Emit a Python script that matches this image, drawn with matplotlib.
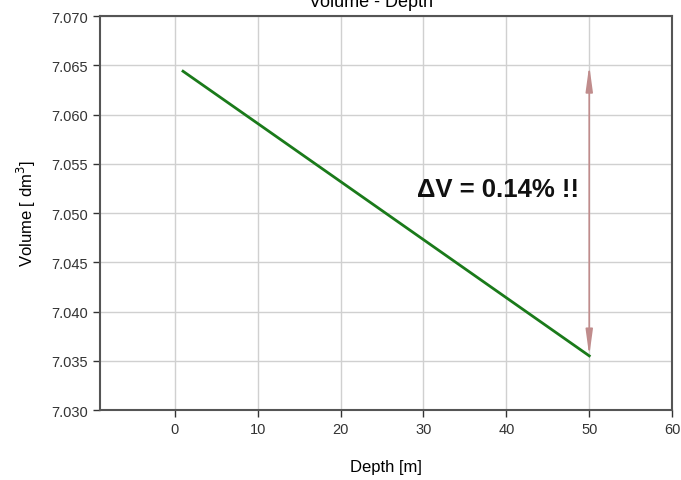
import matplotlib
matplotlib.use('Agg')
import matplotlib.pyplot as plt

depth = [1, 10, 20, 30, 40, 50]
volume = [7.0644, 7.0591, 7.0532, 7.0473, 7.0414, 7.0355]
x_ticks = [0, 10, 20, 30, 40, 50, 60]
y_ticks = [7.030, 7.035, 7.040, 7.045, 7.050, 7.055, 7.060, 7.065, 7.070]
arrow_bottom = 7.0355
arrow_top = 7.0650

plt.rcParams['font.family'] = ['Liberation Sans', 'DejaVu Sans']

fig = plt.figure(figsize=(6.81, 4.81), dpi=100)
ax = fig.add_axes([0.147, 0.1455, 0.84, 0.819])

ax.plot(depth, volume, color='#1a7a1a', lw=2)
ax.annotate('', xy=(depth[-1], arrow_top), xytext=(depth[-1], arrow_bottom),
            arrowprops=dict(arrowstyle='<|-|>,head_length=1.1,head_width=0.15',
                            color='#c08c8c', lw=1.2,
                            mutation_scale=14, shrinkA=0, shrinkB=0))
ax.text(39, 7.0524, '\u0394V = 0.14% !!', fontsize=18.5, fontweight='bold',
        ha='center', va='center', color='#111111')

ax.set_xlim(-9, 60)
ax.set_ylim(7.030, 7.070)
ax.set_xticks(x_ticks)
ax.set_yticks(y_ticks)
ax.set_yticklabels(['%.3f' % v for v in y_ticks])
ax.tick_params(labelsize=10.5, colors='#333333', length=5, width=1)
ax.grid(True, color='#d0d0d0', lw=1)
ax.set_axisbelow(True)
for s in ax.spines.values():
    s.set_color('#555555')
    s.set_linewidth(1.5)

ax.set_xlabel('Depth [m]', fontsize=12, labelpad=17)
ax.set_ylabel('Volume [ dm$^3$]', fontsize=12, labelpad=10)
fig.text(0.545, 0.995, 'Volume - Depth', fontsize=13,
         ha='center', va='center')

fig.savefig('out.png', dpi=100)
